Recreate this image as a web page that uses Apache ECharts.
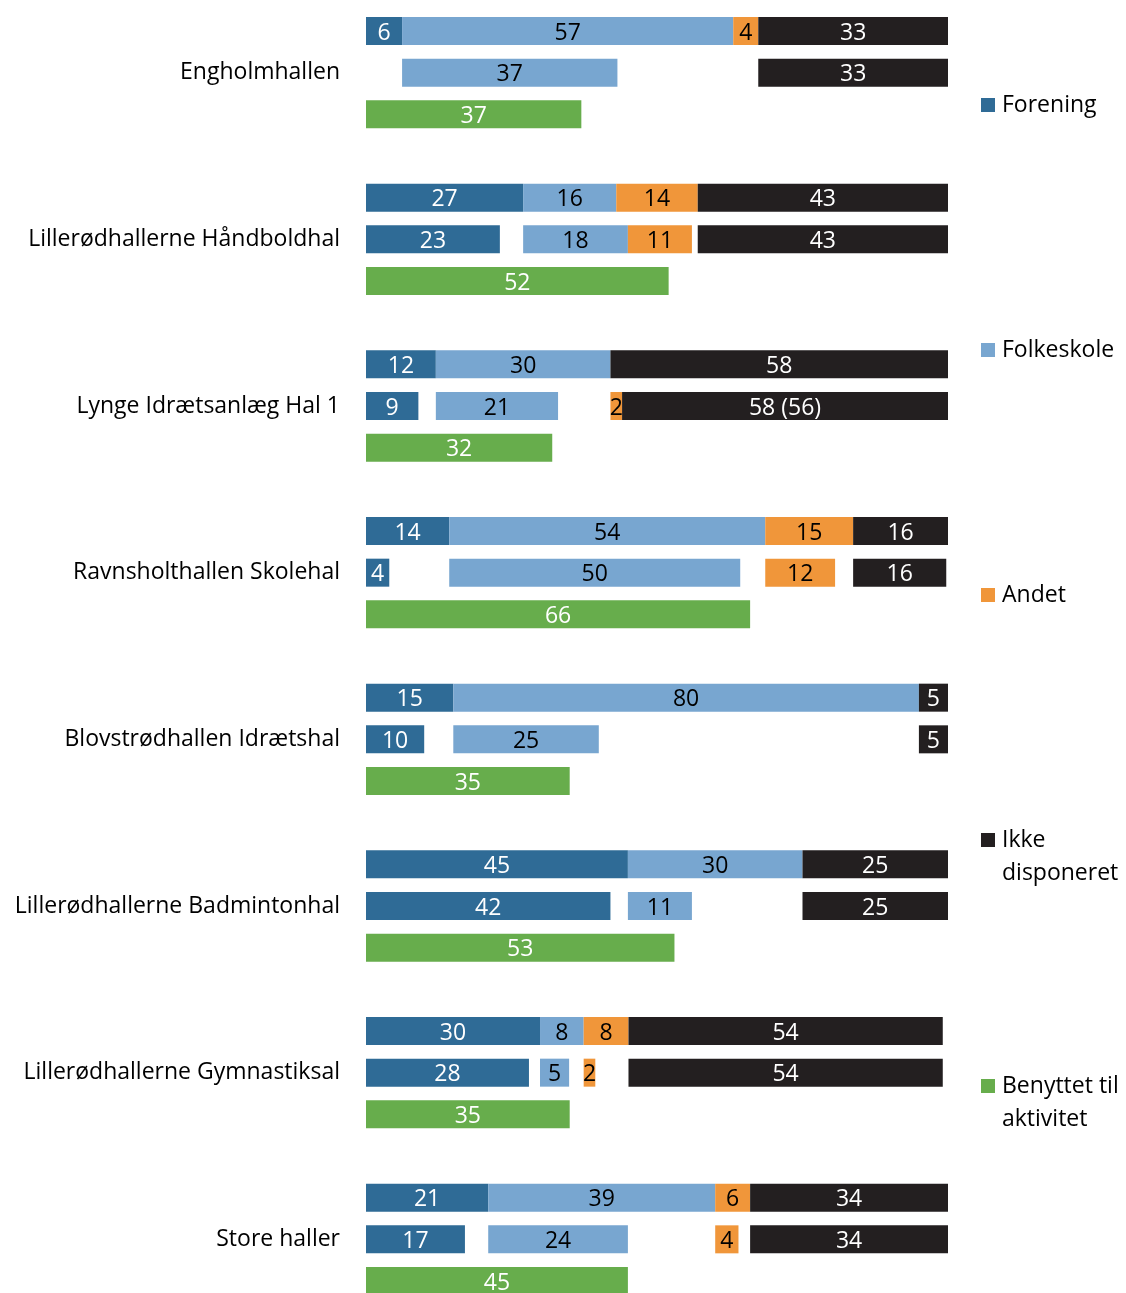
<!DOCTYPE html>
<html>
<head>
<meta charset="utf-8">
<script src="https://cdn.jsdelivr.net/npm/echarts@6/dist/echarts.min.js"></script>
<style>
  html, body { margin: 0; padding: 0; background: #fff; }
  #chart { width: 1126px; height: 1293px; }
</style>
</head>
<body>
<div id="chart"></div>
<script>
let halls = ['Engholmhallen', 'Lillerødhallerne Håndboldhal', 'Lynge Idrætsanlæg Hal 1', 'Ravnsholthallen Skolehal',
  'Blovstrødhallen Idrætshal', 'Lillerødhallerne Badmintonhal', 'Lillerødhallerne Gymnastiksal', 'Store haller'];

// fordelt tid (øverste bjælke)
let foreningAlloc = [6.2, 27, 12, 14.3, 15, 45, 29.9, 21];
let folkeskoleAlloc = [56.9, 16, 30, 54.3, 80, 30, 7.5, 39];
let andetAlloc = [4.3, 14, 0, 15.1, 0, 0, 7.7, 6];
let ikkeAlloc = [32.6, 43, 58, 16.3, 5, 25, 54, 34];

// benyttet tid (midterste bjælke)
let foreningUsed = [0, 23, 9, 4, 10, 42, 28, 17];
let folkeskoleUsed = [37, 18, 21, 50, 25, 11, 5, 24];
let andetUsed = [0, 11, 2, 12, 0, 0, 2, 4];
let ikkeUsed = [33, 43, 56, 16, 5, 25, 54, 34];
let ikkeUsedLabels = ['33', '43', '58 (56)', '16', '5', '25', '54', '34'];

// benyttet til aktivitet (nederste bjælke)
let benyttet = [37, 52, 32, 66, 35, 53, 35, 45];

let colors = {
  forening: '#2f6b96',
  folkeskole: '#78a6d0',
  andet: '#f0963a',
  ikke: '#231f20',
  benyttet: '#67ad4c'
};

let font = 'Open Sans';
let categories = [];
let rows = { sp0: [], f: [], sp1: [], fs: [], sp2: [], a: [], sp3: [], i: [], b: [] };
let ikkeLabel = {};

function push(vals) {
  for (let k in rows)
    rows[k].push(vals.hasOwnProperty(k) ? vals[k] : '-');
}

for (let g = 0; g < halls.length; g++) {
  // fordelt
  categories.push(g + '-0');
  push({ sp0: 0, f: foreningAlloc[g], sp1: 0, fs: folkeskoleAlloc[g], sp2: 0, a: andetAlloc[g], sp3: 0, i: ikkeAlloc[g] });

  // benyttet: hvert stykke starter ved sin fordelte start, eller efter forrige stykke
  let starts = [0, foreningAlloc[g], foreningAlloc[g] + folkeskoleAlloc[g],
    foreningAlloc[g] + folkeskoleAlloc[g] + andetAlloc[g]];
  let used = [foreningUsed[g], folkeskoleUsed[g], andetUsed[g], ikkeUsed[g]];
  let pos = 0;
  let gaps = [];
  for (let k = 0; k < 4; k++) {
    let s = Math.max(starts[k], pos);
    gaps.push(s - pos);
    pos = s + used[k];
  }
  categories.push(g + '-1');
  ikkeLabel[categories.length - 1] = ikkeUsedLabels[g];
  push({ sp0: gaps[0], f: used[0], sp1: gaps[1], fs: used[1], sp2: gaps[2], a: used[2], sp3: gaps[3], i: used[3] });

  // benyttet til aktivitet
  categories.push(g + '-2');
  push({ b: benyttet[g] });

  if (g < halls.length - 1) {
    categories.push(g + '-3');
    push({});
  }
}

function label(color, fn) {
  return {
    show: true,
    position: 'inside',
    color: color,
    fontFamily: font,
    fontSize: 23,
    offset: [0, 2],
    formatter: fn || function (p) {
      return (p.value === '-' || !p.value) ? '' : Math.round(p.value);
    }
  };
}

function spacer(name, key) {
  return {
    name: name, type: 'bar', stack: 'all', barWidth: 28, silent: true,
    itemStyle: { color: 'transparent' },
    data: rows[key]
  };
}

function bar(name, key, color, labelColor, fn) {
  return {
    name: name, type: 'bar', stack: 'all', barWidth: 28,
    itemStyle: { color: color },
    label: label(labelColor, fn),
    data: rows[key]
  };
}

let legendTop = [105, 350, 595, 840, 1086];
let legendNames = ['Forening', 'Folkeskole', 'Andet', 'Ikke disponeret', 'Benyttet til aktivitet'];
// tom første linje, så ikonet står ud for første tekstlinje
let legendText = ['Forening', 'Folkeskole', 'Andet', ' \nIkke\ndisponeret', ' \nBenyttet til\naktivitet'];

let legends = legendNames.map((n, i) => {
  let lines = legendText[i].split('\n').length;
  return {
    data: [n],
    orient: 'vertical',
    left: 981,
    top: legendTop[i] - lines * 33 / 2,
    padding: 0,
    itemWidth: 14,
    itemHeight: 14,
    icon: 'rect',
    selectedMode: false,
    formatter: () => legendText[i],
    textStyle: {
      fontFamily: font,
      fontSize: 23,
      color: '#000',
      lineHeight: 33,
      padding: [0, 0, 0, 2]
    }
  };
});

let chart = echarts.init(document.getElementById('chart'));

chart.setOption({
  animation: false,
  legend: legends,
  grid: { left: 366, right: 178, top: 31, bottom: 12, containLabel: false },
  xAxis: { type: 'value', min: 0, max: 100, show: false },
  yAxis: {
    type: 'category',
    inverse: true,
    boundaryGap: false,
    data: categories,
    axisLine: { show: false },
    axisTick: { show: false },
    splitLine: { show: false },
    axisLabel: {
      interval: 0,
      margin: 26,
      fontFamily: font,
      fontSize: 23,
      color: '#000',
      padding: [0, 0, 6, 0],
      formatter: v => {
        let p = v.split('-');
        return p[1] === '1' ? halls[+p[0]] : '';
      }
    }
  },
  series: [
    spacer('sp0', 'sp0'),
    bar('Forening', 'f', colors.forening, '#fff'),
    spacer('sp1', 'sp1'),
    bar('Folkeskole', 'fs', colors.folkeskole, '#000'),
    spacer('sp2', 'sp2'),
    bar('Andet', 'a', colors.andet, '#000'),
    spacer('sp3', 'sp3'),
    bar('Ikke disponeret', 'i', colors.ikke, '#fff', p => {
      if (p.value === '-' || !p.value) return '';
      return ikkeLabel.hasOwnProperty(p.dataIndex) ? ikkeLabel[p.dataIndex] : Math.round(p.value);
    }),
    bar('Benyttet til aktivitet', 'b', colors.benyttet, '#fff')
  ]
});
</script>
</body>
</html>
